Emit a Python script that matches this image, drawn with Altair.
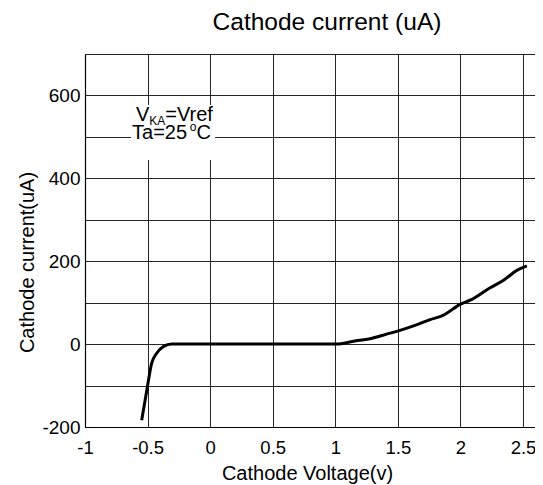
import altair as alt
import pandas as pd

# curve data (Cathode Voltage in V, Cathode current in uA)
volts = [-0.547, -0.502, -0.467, -0.427, -0.374, -0.307, 0.0, 0.5, 1.01, 1.145,
         1.278, 1.41, 1.505, 1.625, 1.758, 1.865, 1.998, 2.078, 2.238, 2.344, 2.451, 2.531]
current = [-184, -104, -46, -22, -6, 0, 0, 0, 0, 7,
           13, 24, 32, 44, 59, 70, 96, 106, 136, 154, 178, 189]

x_grid = [-1, -0.5, 0, 0.5, 1, 1.5, 2, 2.5]
y_grid = [-200, -100, 0, 100, 200, 300, 400, 500, 600, 700]

FONT = "Liberation Sans"
W, H = 450, 373
XDOM = [-1, 2.596]
YDOM = [-200, 700]

df = pd.DataFrame({"v": volts, "i": current})

xs = alt.Scale(domain=XDOM, nice=False, zero=False)
ys = alt.Scale(domain=YDOM, nice=False, zero=False)

x_axis = alt.Axis(values=x_grid, title="Cathode Voltage(v)", grid=True, ticks=False,
                  labelExpr="'' + datum.value", labelFontSize=18.5, labelFont=FONT,
                  labelColor="black", labelPadding=11, labelFlush=False,
                  titleFontSize=20, titleFont=FONT, titleFontWeight="normal", titleColor="black",
                  titleX=222, titleY=52, titleBaseline="alphabetic", titleAlign="center",
                  domainColor="black", domainWidth=1.2, gridColor="black", gridWidth=1,
                  gridOpacity=0.85)
y_axis = alt.Axis(values=y_grid, title="Cathode current(uA)", grid=True, ticks=False,
                  labelExpr="datum.value % 200 == 0 ? '' + datum.value : ''",
                  labelFontSize=19, labelFont=FONT, labelColor="black", labelPadding=5,
                  labelFlush=False,
                  titleFontSize=20, titleFont=FONT, titleFontWeight="normal", titleColor="black",
                  titleX=-52, titleY=208, titleBaseline="alphabetic", titleAlign="center",
                  titleAngle=-90,
                  domainColor="black", domainWidth=1.2, gridColor="black", gridWidth=1,
                  gridOpacity=0.85)

line = alt.Chart(df).mark_line(color="black", strokeWidth=3, interpolate="monotone").encode(
    x=alt.X("v:Q", scale=xs, axis=x_axis),
    y=alt.Y("i:Q", scale=ys, axis=y_axis),
)

# white box behind the annotation
box = alt.Chart(pd.DataFrame({"a": [0]})).mark_rect(color="white").encode(
    x=alt.datum(-0.632, scale=xs), x2=alt.datum(0.039),
    y=alt.datum(577, scale=ys), y2=alt.datum(444),
)

def txt(s, x, y, size):
    return alt.Chart(pd.DataFrame({"t": [s]})).mark_text(
        font=FONT, fontSize=size, color="black", align="left", baseline="alphabetic"
    ).encode(x=alt.datum(x, scale=xs), y=alt.datum(y, scale=ys), text="t:N")

ann = [
    txt("V", -0.5925, 538.3, 20),
    txt("KA", -0.4862, 528.7, 12),
    txt("=Vref", -0.3583, 538.3, 20),
    txt("Ta=25", -0.6244, 494.9, 20),
    txt("o", -0.1625, 514.2, 12),
    txt("C", -0.109, 494.9, 20),
]

chart = alt.layer(box, line, *ann).properties(
    width=W, height=H,
    title=alt.TitleParams("Cathode current (uA)", fontSize=24.5, font=FONT, fontWeight="normal",
                          anchor="middle", dx=17, offset=0, baseline="alphabetic", color="black"),
    autosize=alt.AutoSizeParams(type="none"),
    padding={"left": 77, "top": 46, "right": 0, "bottom": 58},
).configure_view(stroke=None).configure(background="white")

chart.save("out.html", embed_options={"renderer": "svg", "actions": False})
